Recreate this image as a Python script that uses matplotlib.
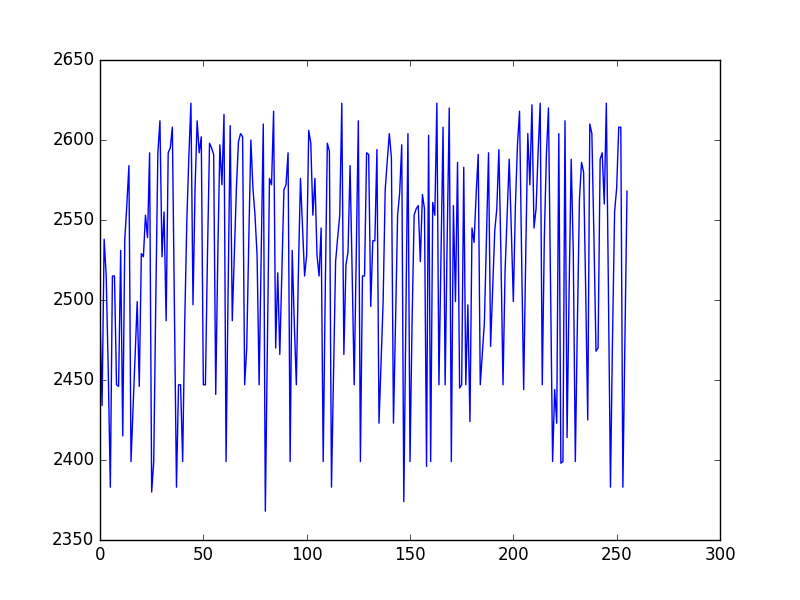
import matplotlib
matplotlib.use("Agg")
import matplotlib.pyplot as plt

# sample values, one per index 0..255
values = [
    2490, 2434, 2538, 2515, 2455, 2383, 2515, 2515, 2447, 2446,
    2531, 2415, 2538, 2560, 2584, 2399, 2432, 2466, 2499, 2446,
    2529, 2527, 2553, 2539, 2592, 2380, 2399, 2500, 2592, 2612,
    2527, 2555, 2487, 2592, 2595, 2608, 2497, 2383, 2447, 2447,
    2399, 2486, 2549, 2590, 2623, 2497, 2570, 2612, 2592, 2602,
    2447, 2447, 2528, 2598, 2595, 2591, 2441, 2528, 2597, 2572,
    2616, 2399, 2507, 2609, 2487, 2528, 2570, 2599, 2604, 2602,
    2447, 2470, 2538, 2600, 2570, 2553, 2528, 2447, 2528, 2610,
    2368, 2472, 2576, 2572, 2618, 2470, 2517, 2466, 2518, 2569,
    2572, 2592, 2399, 2531, 2486, 2447, 2518, 2576, 2545, 2515,
    2528, 2606, 2598, 2553, 2576, 2528, 2515, 2545, 2399, 2507,
    2598, 2593, 2383, 2455, 2524, 2539, 2553, 2623, 2466, 2522,
    2530, 2584, 2518, 2447, 2528, 2612, 2399, 2515, 2515, 2592,
    2591, 2496, 2537, 2537, 2594, 2423, 2461, 2499, 2569, 2587,
    2604, 2589, 2423, 2486, 2553, 2567, 2597, 2374, 2486, 2604,
    2399, 2486, 2553, 2557, 2559, 2524, 2566, 2557, 2396, 2603,
    2399, 2561, 2553, 2623, 2447, 2528, 2608, 2447, 2539, 2620,
    2399, 2559, 2499, 2586, 2445, 2447, 2583, 2447, 2497, 2424,
    2545, 2536, 2566, 2591, 2447, 2466, 2486, 2539, 2592, 2471,
    2507, 2543, 2557, 2594, 2528, 2447, 2518, 2553, 2588, 2545,
    2499, 2559, 2597, 2618, 2528, 2444, 2528, 2604, 2572, 2622,
    2545, 2557, 2593, 2623, 2447, 2539, 2591, 2620, 2510, 2399,
    2444, 2423, 2604, 2398, 2399, 2612, 2414, 2507, 2588, 2530,
    2399, 2486, 2563, 2586, 2580, 2507, 2425, 2610, 2604, 2539,
    2468, 2470, 2588, 2592, 2560, 2623, 2507, 2383, 2477, 2555,
    2570, 2608, 2608, 2383, 2477, 2568,
]
x_limits = (0, 300)
y_limits = (2350, 2650)

plt.style.use('classic')
fig = plt.figure(figsize=(8, 6), dpi=100, facecolor='white')
ax = fig.add_subplot(111)

ax.plot(range(len(values)), values, color='b', linewidth=1.0)

ax.set_xlim(*x_limits)
ax.set_ylim(*y_limits)

fig.savefig('out.png', dpi=100, facecolor='white')
